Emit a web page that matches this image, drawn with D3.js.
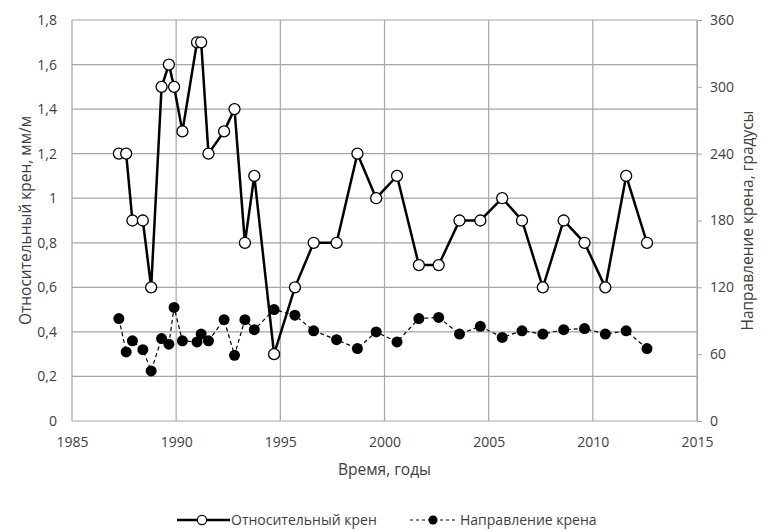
<!DOCTYPE html>
<html><head><meta charset="utf-8">
<script src="https://cdn.jsdelivr.net/npm/d3@7"></script>
<style>body{margin:0;background:#fff}text{font-family:"Open Sans",sans-serif}</style>
</head><body><svg id="c" width="762" height="530"></svg>
<script>
const years = [1987.25,1987.6,1987.9,1988.4,1988.8,1989.3,1989.65,1989.9,1990.3,1991.0,1991.2,1991.55,1992.3,1992.8,1993.3,1993.75,1994.7,1995.7,1996.6,1997.7,1998.7,1999.6,2000.6,2001.65,2002.6,2003.6,2004.6,2005.65,2006.6,2007.6,2008.6,2009.6,2010.6,2011.6,2012.6];
const relTilt = [1.2,1.2,0.9,0.9,0.6,1.5,1.6,1.5,1.3,1.7,1.7,1.2,1.3,1.4,0.8,1.1,0.3,0.6,0.8,0.8,1.2,1.0,1.1,0.7,0.7,0.9,0.9,1.0,0.9,0.6,0.9,0.8,0.6,1.1,0.8];
const direction = [92,62,72,64,45,74,69,102,72,71,78,72,91,59,91,82,100,95,81,73,65,80,71,92,93,78,85,75,81,78,82,83,78,81,65];
const xTicks = [1985,1990,1995,2000,2005,2010,2015];
const yLeftTicks = [0,0.2,0.4,0.6,0.8,1,1.2,1.4,1.6,1.8];
const yRightTicks = [0,60,120,180,240,300,360];
const seriesNames = ["Относительный крен","Направление крена"];
const xTitle = "Время, годы", yLeftTitle = "Относительный крен, мм/м", yRightTitle = "Направление крена, градусы";

const svg = d3.select("#c");
const L=72, R=697, T=20, B=421;
const x = d3.scaleLinear().domain([1985,2015]).range([L,R]);
const yL = d3.scaleLinear().domain([0,1.8]).range([B,T]);
const yR = d3.scaleLinear().domain([0,360]).range([B,T]);
const fmt = v => String(v).replace(".",",");
const grid="#a6a6a6", txt="#404040";
const tickFs="14px", titleFs="15.5px";

// grid
svg.append("g").selectAll("line").data(yLeftTicks).join("line")
  .attr("x1",L).attr("x2",R).attr("y1",d=>yL(d)).attr("y2",d=>yL(d))
  .attr("stroke",grid).attr("stroke-width",1.2);
svg.append("g").selectAll("line").data(xTicks).join("line")
  .attr("y1",T).attr("y2",B).attr("x1",d=>x(d)).attr("x2",d=>x(d))
  .attr("stroke",grid).attr("stroke-width",1.2);

// left axis labels
const gl = svg.append("g").attr("transform",`translate(${L},0)`)
  .call(d3.axisLeft(yL).tickValues(yLeftTicks).tickFormat(fmt).tickSize(0).tickPadding(15));
gl.select(".domain").remove();
gl.selectAll("text").attr("fill",txt).style("font-size",tickFs);
// right axis
const gr = svg.append("g").attr("transform",`translate(${R},0)`)
  .call(d3.axisRight(yR).tickValues(yRightTicks).tickSize(5).tickPadding(8));
gr.select(".domain").attr("stroke",grid);
gr.selectAll("line").attr("stroke",grid);
gr.selectAll("text").attr("fill",txt).style("font-size",tickFs);
// x axis
const gx = svg.append("g").attr("transform",`translate(0,${B})`)
  .call(d3.axisBottom(x).tickValues(xTicks).tickFormat(d3.format("d")).tickSize(0).tickPadding(16));
gx.select(".domain").remove();
gx.selectAll("text").attr("fill",txt).style("font-size",tickFs);

// titles
svg.append("text").attr("transform",`translate(26,${(T+B)/2}) rotate(-90)`).attr("text-anchor","middle")
  .attr("dy","0.35em").attr("fill",txt).style("font-size",titleFs).text(yLeftTitle);
svg.append("text").attr("transform",`translate(748,${(T+B)/2}) rotate(-90)`).attr("text-anchor","middle")
  .attr("dy","0.35em").attr("fill",txt).style("font-size",titleFs).text(yRightTitle);
svg.append("text").attr("x",(L+R)/2).attr("y",470).attr("text-anchor","middle")
  .attr("dy","0.35em").attr("fill",txt).style("font-size",titleFs).text(xTitle);

// direction series
const dDir = years.map((y,i)=>[y,direction[i]]);
svg.append("path").datum(dDir).attr("fill","none").attr("stroke","#000").attr("stroke-width",1.2)
  .attr("stroke-dasharray","4,3").attr("d",d3.line().x(d=>x(d[0])).y(d=>yR(d[1])));
svg.append("g").selectAll("circle").data(dDir).join("circle")
  .attr("cx",d=>x(d[0])).attr("cy",d=>yR(d[1])).attr("r",5.5).attr("fill","#000");

// relative tilt series
const dRel = years.map((y,i)=>[y,relTilt[i]]);
svg.append("path").datum(dRel).attr("fill","none").attr("stroke","#000").attr("stroke-width",2.5)
  .attr("d",d3.line().x(d=>x(d[0])).y(d=>yL(d[1])));
svg.append("g").selectAll("circle").data(dRel).join("circle")
  .attr("cx",d=>x(d[0])).attr("cy",d=>yL(d[1])).attr("r",5.5).attr("fill","#fff")
  .attr("stroke","#000").attr("stroke-width",1.3);

// legend
const lg = svg.append("g");
lg.append("line").attr("x1",177).attr("x2",230).attr("y1",520).attr("y2",520).attr("stroke","#000").attr("stroke-width",2.5);
lg.append("circle").attr("cx",202).attr("cy",520).attr("r",4.6).attr("fill","#fff").attr("stroke","#000").attr("stroke-width",1.2);
lg.append("text").attr("x",231).attr("y",520).attr("dy","0.35em").attr("fill",txt).style("font-size",tickFs).text(seriesNames[0]);
lg.append("line").attr("x1",410).attr("x2",457).attr("y1",520).attr("y2",520).attr("stroke","#000").attr("stroke-width",1).attr("stroke-dasharray","3,3");
lg.append("circle").attr("cx",433).attr("cy",520).attr("r",4.5).attr("fill","#000");
lg.append("text").attr("x",460).attr("y",520).attr("dy","0.35em").attr("fill",txt).style("font-size",tickFs).text(seriesNames[1]);
</script></body></html>
